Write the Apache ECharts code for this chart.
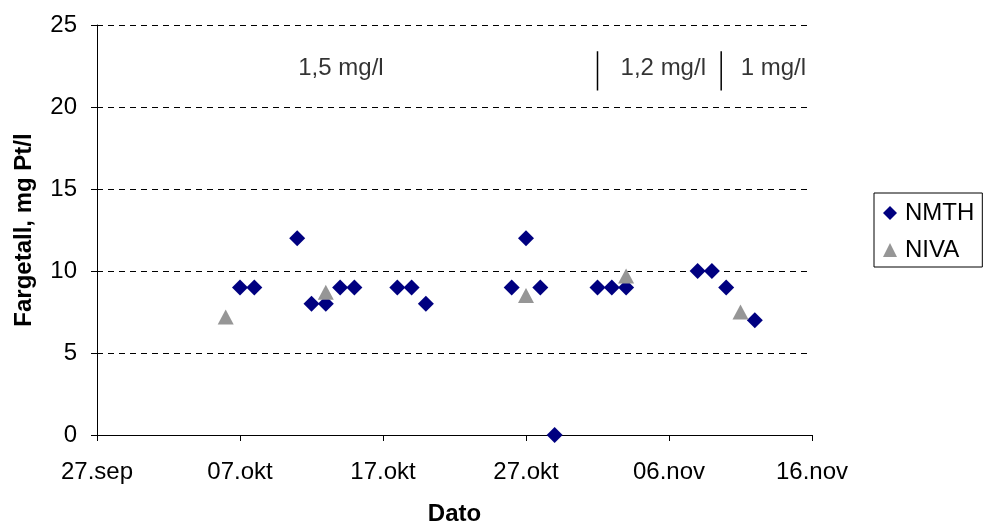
<!DOCTYPE html>
<html><head><meta charset="utf-8">
<script src="https://cdn.jsdelivr.net/npm/echarts@6/dist/echarts.min.js"></script>
<style>html,body{margin:0;padding:0;background:#fff}#c{width:986px;height:525px}</style>
</head><body><div id="c"></div>
<script>
const startDate = '2003-09-27';
const xTickLabels = ['27.sep','07.okt','17.okt','27.okt','06.nov','16.nov'];
const nmthDates = ['2003-10-07','2003-10-08','2003-10-11','2003-10-12','2003-10-13','2003-10-14','2003-10-15','2003-10-18','2003-10-19','2003-10-20','2003-10-26','2003-10-27','2003-10-28','2003-10-29','2003-11-01','2003-11-02','2003-11-03','2003-11-08','2003-11-09','2003-11-10','2003-11-12'];
const nmthValues = [9,9,12,8,8,9,9,9,9,8,9,12,9,0,9,9,9,10,10,9,7];
const nivaDates = ['2003-10-06','2003-10-13','2003-10-27','2003-11-03','2003-11-11'];
const nivaValues = [7.2,8.7,8.5,9.7,7.5];
const annoTexts = ['1,5 mg/l','1,2 mg/l','1 mg/l'];
const annoX = [17.06, 39.6, 47.3];
const annoY = 22.35;
const dividerX = [35, 43.65];

const day = d => (Date.parse(d) - Date.parse(startDate)) / 86400000;
const chart = echarts.init(document.getElementById('c'));
const font = '"Liberation Sans", Arial, sans-serif';
chart.setOption({
  animation:false,
  grid:{left:97,right:174,top:25,bottom:90,containLabel:false,outerBoundsMode:'none'},
  xAxis:{type:'value',min:0,max:50,interval:10,
    name:'Dato',nameLocation:'middle',nameGap:67,
    nameTextStyle:{fontFamily:font,fontSize:24,fontWeight:'bold',color:'#000'},
    axisLine:{lineStyle:{color:'#000'}},
    axisTick:{show:true,length:6,lineStyle:{color:'#000'}},
    axisLabel:{fontFamily:font,fontSize:24,color:'#000',margin:25,formatter:v=>xTickLabels[v/10]},
    splitLine:{show:false}},
  yAxis:{type:'value',min:0,max:25,interval:5,
    name:'Fargetall, mg Pt/l',nameLocation:'middle',nameGap:61,
    nameTextStyle:{fontFamily:font,fontSize:24,fontWeight:'bold',color:'#000'},
    axisLine:{show:true,lineStyle:{color:'#000'}},
    axisTick:{show:true,length:6,lineStyle:{color:'#000'}},
    axisLabel:{fontFamily:font,fontSize:24,color:'#000',margin:20},
    splitLine:{show:true,lineStyle:{color:'#000',type:[6,5],width:1}}},
  legend:{left:874,top:193,orient:'vertical',itemGap:11,
    padding:[7,8,4,9],borderColor:'#000',borderWidth:1,
    itemWidth:14,itemHeight:14,
    textStyle:{fontFamily:font,fontSize:24,color:'#000',lineHeight:26,padding:[0,0,0,3]},
    data:[{name:'NMTH',icon:'diamond'},{name:'NIVA',icon:'triangle'}]},
  series:[
    {name:'NMTH',type:'scatter',symbol:'diamond',symbolSize:[16,16],
      itemStyle:{color:'#000080',opacity:1},
      data:nmthDates.map((d,i)=>[day(d),nmthValues[i]])},
    {name:'NIVA',type:'scatter',symbol:'triangle',symbolSize:[16,15],
      itemStyle:{color:'#969696',opacity:1},
      data:nivaDates.map((d,i)=>[day(d),nivaValues[i]])},
    {type:'scatter',symbolSize:0,silent:true,
      label:{show:true,position:'inside',formatter:p=>annoTexts[p.dataIndex],
        fontFamily:font,fontSize:24,color:'#000'},
      data:annoX.map(x=>[x,annoY])},
    ...dividerX.map(x=>({type:'line',silent:true,symbol:'none',
      lineStyle:{color:'#000',width:1.5},data:[[x,21],[x,23.4]]}))
  ]
});
</script></body></html>
